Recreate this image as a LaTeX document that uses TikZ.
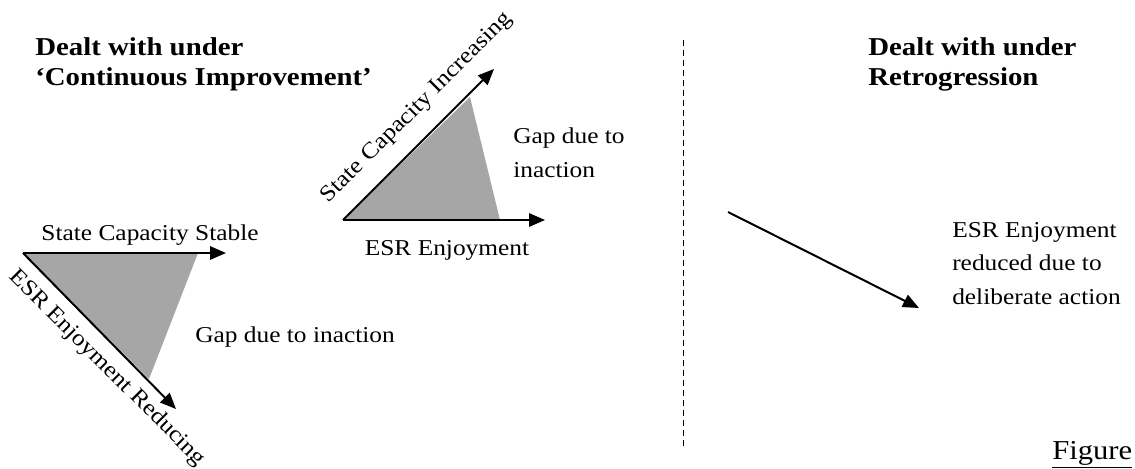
\documentclass[tikz,border=0pt]{standalone}
\usepackage{fontspec}
\setmainfont{Liberation Serif}[FakeStretch=1.12]
\usetikzlibrary{arrows.meta}
\definecolor{gapgrey}{HTML}{A6A6A6}
\tikzset{
  axis/.style={line width=1.5pt,-{Triangle[length=12pt,width=10pt]}},
  gapfill/.style={fill=gapgrey,draw=none},
  body/.style={font=\fontsize{17pt}{25pt}\selectfont,inner sep=0pt,align=left},
  heading/.style={font=\fontsize{19.3pt}{22.5pt}\selectfont\bfseries,inner sep=0pt,align=left},
  caption/.style={font=\fontsize{20.5pt}{25pt}\selectfont,inner sep=0pt},
  divider/.style={line width=0.75pt,dash pattern=on 4.5pt off 3pt}
}
\begin{document}
\begin{tikzpicture}[x=0.75pt,y=-0.75pt]
\useasboundingbox (0,0) rectangle (1135,468);
% headings
\node[heading,anchor=base west] (h1) at (35,85) {Dealt with under\\`Continuous Improvement'};
\node[heading,anchor=base west] (h2) at (868,85) {Dealt with under\\Retrogression};
% divider
\coordinate (d1) at (683,40);
\coordinate (d2) at (683,448);
\draw[divider] (d1) -- (d2);
% upper triangle
\coordinate (o1) at (343,220);
\coordinate (e1) at (545,220);
\coordinate (s1) at (494,69);
\fill[gapfill] (o1) -- (470,97) -- (500,220) -- cycle;
\draw[axis] (o1) -- (e1);
\draw[axis] (o1) -- (s1);
\node[body,rotate=45] (l1) at (417,108) {State Capacity Increasing};
\node[body,anchor=base] (l2) at (447,255) {ESR Enjoyment};
\node[body,anchor=base west] (l3) at (513,177) {Gap due to\\inaction};
% lower triangle
\coordinate (o2) at (23,253);
\coordinate (e2) at (226,253);
\coordinate (s2) at (176,409);
\fill[gapfill] (o2) -- (198,253) -- (149,379) -- cycle;
\draw[axis] (o2) -- (e2);
\draw[axis] (o2) -- (s2);
\node[body,anchor=base] (l4) at (150,240) {State Capacity Stable};
\node[body,rotate=-45] (l5) at (107,368) {ESR Enjoyment Reducing};
\node[body,anchor=base west] (l6) at (195,342) {Gap due to inaction};
% retrogression arrow
\coordinate (r1) at (728,212);
\coordinate (r2) at (919,308);
\draw[axis] (r1) -- (r2);
\node[body,anchor=base west] (l7) at (952,304) {ESR Enjoyment\\reduced due to\\deliberate action};
\node[caption,anchor=base west] (fig) at (1052,459) {\underline{Figure}};
\end{tikzpicture}
\end{document}
